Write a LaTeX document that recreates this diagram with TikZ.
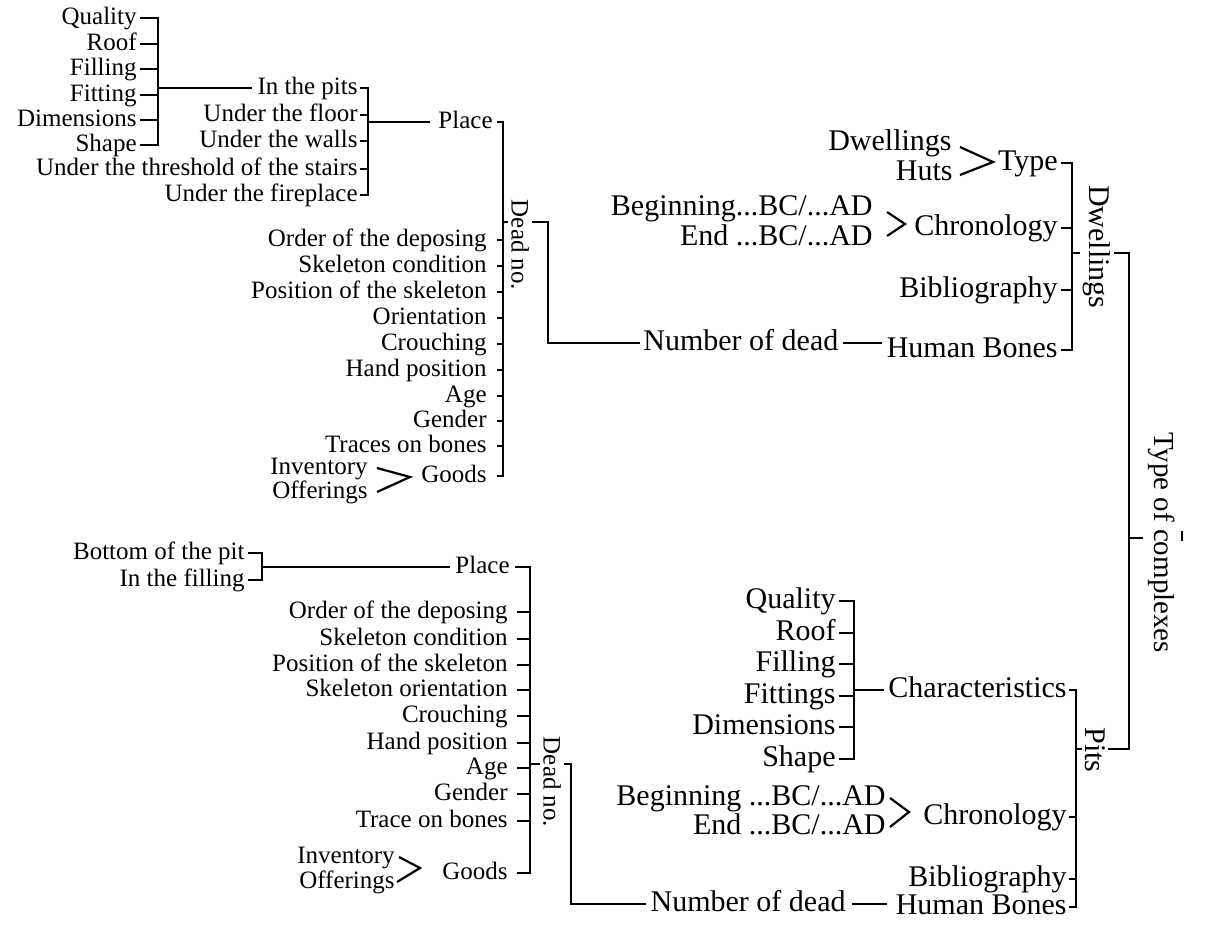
\documentclass[tikz,border=0pt]{standalone}
\usepackage{fontspec}
\setmainfont{Liberation Serif}
\begin{document}
\begin{tikzpicture}[x=0.5pt,y=-0.5pt,
  ln/.style={line width=1.1pt},
  sm/.style={inner sep=0pt, text height=8.75pt, text depth=2.5pt, font=\fontsize{12.5}{14}\selectfont},
  bg/.style={inner sep=0pt, text height=10.5pt, text depth=3pt, font=\fontsize{15}{17}\selectfont},
  vsm/.style={rotate=-90, fill=white, inner sep=1.5pt, font=\fontsize{12.5}{14}\selectfont},
  vbg/.style={rotate=-90, fill=white, inner sep=1.5pt, font=\fontsize{15}{17}\selectfont},
]
\useasboundingbox (0,0) rectangle (1206,926);

% ---------- Dwellings: place of the dead ----------
\node[sm, anchor=east] (aQ)  at (137,18)  {Quality};
\node[sm, anchor=east] (aR)  at (137,44)  {Roof};
\node[sm, anchor=east] (aF)  at (137,69)  {Filling};
\node[sm, anchor=east] (aFt) at (137,95)  {Fitting};
\node[sm, anchor=east] (aD)  at (137,120) {Dimensions};
\node[sm, anchor=east] (aS)  at (137,145) {Shape};
\coordinate (bA) at (158,0);

\node[sm, anchor=east] (bIn) at (358,88)  {In the pits};
\node[sm, anchor=east] (bFl) at (358,115) {Under the floor};
\node[sm, anchor=east] (bWa) at (358,141) {Under the walls};
\node[sm, anchor=east] (bTh) at (358,169) {Under the threshold of the stairs};
\node[sm, anchor=east] (bFi) at (358,195) {Under the fireplace};
\coordinate (bB) at (368,0);

\node[sm, anchor=east] (cPl) at (493,122) {Place};
\coordinate (bC) at (503,0);
\node[sm, anchor=east] (c1)  at (487,240) {Order of the deposing};
\node[sm, anchor=east] (c2)  at (487,266) {Skeleton condition};
\node[sm, anchor=east] (c3)  at (487,292) {Position of the skeleton};
\node[sm, anchor=east] (c4)  at (487,318) {Orientation};
\node[sm, anchor=east] (c5)  at (487,344) {Crouching};
\node[sm, anchor=east] (c6)  at (487,370) {Hand position};
\node[sm, anchor=east] (c7)  at (487,396) {Age};
\node[sm, anchor=east] (c8)  at (487,421) {Gender};
\node[sm, anchor=east] (c9)  at (487,446) {Traces on bones};
\node[sm, anchor=east] (cGo) at (487,476) {Goods};
\node[sm, anchor=east] (cInv) at (368,468) {Inventory};
\node[sm, anchor=east] (cOff) at (368,492) {Offerings};
\coordinate (tipC) at (410,477);

% brackets
\draw[ln] ([xshift=1.5pt]aQ.east) -- (aQ.east -| bA) -- (aS.east -| bA) -- ([xshift=1.5pt]aS.east);
\foreach \n in {aR,aF,aFt,aD} \draw[ln] ([xshift=1.5pt]\n.east) -- (\n.east -| bA);
\draw[ln] (bIn.west -| bA) -- ([xshift=-2.5pt]bIn.west);

\draw[ln] ([xshift=1pt]bIn.east) -- (bIn.east -| bB) -- (bFi.east -| bB) -- ([xshift=1pt]bFi.east);
\foreach \n in {bFl,bWa,bTh} \draw[ln] ([xshift=1pt]\n.east) -- (\n.east -| bB);
\draw[ln] (cPl.west -| bB) -- ([xshift=-4pt]cPl.west);

\draw[ln] ([xshift=2pt]cPl.east) -- (cPl.east -| bC) -- (cGo.east -| bC) -- ([xshift=5pt]cGo.east);
\foreach \n in {c1,c2,c3,c4,c5,c6,c7,c8,c9} \draw[ln] ([xshift=5pt]\n.east) -- (\n.east -| bC);
\draw[ln] ([xshift=4.5pt]cInv.east) -- (tipC) -- ([xshift=4.5pt]cOff.east);

% ---------- Dwellings: main branch ----------
\node[bg, anchor=west] (nd1) at (643,343) {Number of dead};
\coordinate (jC) at (503,222);
\coordinate (kC1) at (548,222);
\coordinate (kC2) at (548,343);
\draw[ln] (jC) -- (kC1) -- (kC2) -- ([xshift=-1.5pt]nd1.west);

\node[bg, anchor=east] (dDw) at (952,143) {Dwellings};
\node[bg, anchor=east] (dHu) at (953,173) {Huts};
\coordinate (tipT) at (993,162);
\node[bg, anchor=east] (dTy) at (1058,163) {Type};
\node[bg, anchor=east] (dBe) at (873,208) {Beginning...BC/...AD};
\node[bg, anchor=east] (dEn) at (873,238) {End ...BC/...AD};
\coordinate (tipD) at (905,224);
\node[bg, anchor=east] (dCh) at (1058,228) {Chronology};
\node[bg, anchor=east] (dBi) at (1058,290) {Bibliography};
\node[bg, anchor=east] (dHb) at (1058,350) {Human Bones};
\coordinate (bD) at (1072,0);

\draw[ln] ([shift={(4pt,-2pt)}]dDw.east) -- (tipT) -- ([shift={(3.5pt,-1pt)}]dHu.east);
\draw[ln] ([shift={(7pt,-2pt)}]dBe.east) -- (tipD) -- ([shift={(7pt,1pt)}]dEn.east);
\draw[ln] ([xshift=1.5pt]dTy.east) -- (dTy.east -| bD) -- (dHb.east -| bD) -- ([xshift=1.5pt]dHb.east);
\foreach \n in {dCh,dBi} \draw[ln] ([xshift=1.5pt]\n.east) -- (\n.east -| bD);
\draw[ln] ([xshift=2pt]nd1.east) -- ([xshift=-2pt]nd1.east -| dHb.west);

% ---------- Pits: place of the dead ----------
\node[sm, anchor=east] (fB) at (245,553) {Bottom of the pit};
\node[sm, anchor=east] (fI) at (245,580) {In the filling};
\coordinate (bF) at (262,0);
\node[sm, anchor=east] (fPl) at (510,567) {Place};
\coordinate (bG) at (530,0);
\node[sm, anchor=east] (g1) at (508,612) {Order of the deposing};
\node[sm, anchor=east] (g2) at (508,639) {Skeleton condition};
\node[sm, anchor=east] (g3) at (508,665) {Position of the skeleton};
\node[sm, anchor=east] (g4) at (508,690) {Skeleton orientation};
\node[sm, anchor=east] (g5) at (508,716) {Crouching};
\node[sm, anchor=east] (g6) at (508,743) {Hand position};
\node[sm, anchor=east] (g7) at (508,768) {Age};
\node[sm, anchor=east] (g8) at (508,794) {Gender};
\node[sm, anchor=east] (g9) at (508,821) {Trace on bones};
\node[sm, anchor=east] (gGo) at (508,873) {Goods};
\node[sm, anchor=east] (gInv) at (395,857) {Inventory};
\node[sm, anchor=east] (gOff) at (395,882) {Offerings};
\coordinate (tipG) at (420,868);

\draw[ln] ([xshift=1.5pt]fB.east) -- (fB.east -| bF) -- (fI.east -| bF) -- ([xshift=1.5pt]fI.east);
\draw[ln] (fPl.west -| bF) -- ([xshift=-2.5pt]fPl.west);
\draw[ln] ([xshift=2.5pt]fPl.east) -- (fPl.east -| bG) -- (gGo.east -| bG) -- ([xshift=4.5pt]gGo.east);
\foreach \n in {g1,g2,g3,g4,g5,g6,g7,g8,g9} \draw[ln] ([xshift=4.5pt]\n.east) -- (\n.east -| bG);
\draw[ln] ([xshift=2pt]gInv.east) -- (tipG) -- ([xshift=1pt]gOff.east);

% ---------- Pits: main branch ----------
\node[bg, anchor=east] (nd2) at (846,904) {Number of dead};
\coordinate (jG) at (530,764);
\coordinate (kG1) at (571,764);
\coordinate (kG2) at (571,904);
\draw[ln] (jG) -- (kG1) -- (kG2) -- ([xshift=-2pt]nd2.west);

\node[bg, anchor=east] (eQ)  at (836,601) {Quality};
\node[bg, anchor=east] (eR)  at (836,633) {Roof};
\node[bg, anchor=east] (eF)  at (836,664) {Filling};
\node[bg, anchor=east] (eFt) at (836,696) {Fittings};
\node[bg, anchor=east] (eD)  at (836,727) {Dimensions};
\node[bg, anchor=east] (eS)  at (836,759) {Shape};
\coordinate (bE) at (854,0);
\node[bg, anchor=east] (eCa) at (1067,690) {Characteristics};
\node[bg, anchor=east] (eBe) at (886,798) {Beginning ...BC/...AD};
\node[bg, anchor=east] (eEn) at (886,827) {End ...BC/...AD};
\coordinate (tipE) at (909,812);
\node[bg, anchor=east] (eCh) at (1067,817) {Chronology};
\node[bg, anchor=east] (eBi) at (1067,879) {Bibliography};
\node[bg, anchor=east] (eHb) at (1067,907) {Human Bones};
\coordinate (bH) at (1076,0);

\draw[ln] ([xshift=1.5pt]eQ.east) -- (eQ.east -| bE) -- (eS.east -| bE) -- ([xshift=1.5pt]eS.east);
\foreach \n in {eR,eF,eFt,eD} \draw[ln] ([xshift=1.5pt]\n.east) -- (\n.east -| bE);
\draw[ln] (eCa.west -| bE) -- ([xshift=-2pt]eCa.west);
\draw[ln] ([xshift=2pt]eBe.east) -- (tipE) -- ([xshift=2pt]eEn.east);
\draw[ln] ([xshift=1pt]eCa.east) -- (eCa.east -| bH) -- (eHb.east -| bH) -- ([xshift=1pt]eHb.east);
\foreach \n in {eCh,eBi} \draw[ln] ([xshift=1pt]\n.east) -- (\n.east -| bH);
\draw[ln] ([xshift=3pt]nd2.east) -- ([xshift=-4pt]nd2.east -| eHb.west);

% ---------- root: type of complexes ----------
\coordinate (jD) at (1072,253);
\coordinate (kT1) at (1129,253);
\coordinate (kT2) at (1129,749);
\coordinate (jE) at (1076,749);
\draw[ln] (jD) -- (kT1) -- (kT2) -- (jE);
\coordinate (jT) at (1129,538);
\coordinate (jT2) at (1143,538);
\draw[ln] (jT) -- (jT2);
\coordinate (mT1) at (1182,531);
\coordinate (mT2) at (1182,541);
\draw[ln] (mT1) -- (mT2);

% vertical labels, drawn over their connectors
\node[vsm] (lDead1) at (520,245) {Dead no.};
\node[vsm] (lDead2) at (552,782) {Dead no.};
\node[vbg] (lDw) at (1097,247) {Dwellings};
\node[vbg] (lPits) at (1095,750) {Pits};
\node[rotate=-90, inner sep=1.5pt, font=\fontsize{14.5}{16}\selectfont] (lType) at (1162,543) {Type of complexes};
\end{tikzpicture}
\end{document}
